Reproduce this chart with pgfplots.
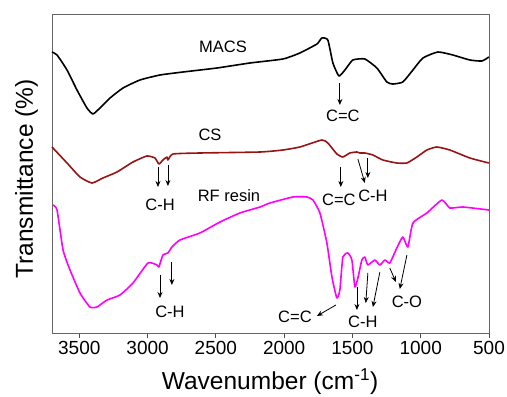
\documentclass[border=0pt]{standalone}
\usepackage{pgfplots}
\pgfplotsset{compat=1.18}
\usepackage{fontspec}
\setmainfont{Liberation Sans}
\usetikzlibrary{arrows.meta}
\definecolor{csred}{RGB}{150,20,20}
\definecolor{rfmag}{RGB}{255,0,255}
\tikzset{
  annot/.style={font=\fontsize{16.5}{19}\selectfont},
  arr/.style={-{Stealth[length=6pt,width=5pt]}, line width=0.8pt, black},
}
\begin{document}
\begin{tikzpicture}
\useasboundingbox (-52pt,-64pt) rectangle (455pt,333pt);
\begin{axis}[
  scale only axis, width=437pt, height=319pt,
  xmin=500, xmax=3700, x dir=reverse,
  ymin=0, ymax=319,
  ytick=\empty,
  xtick={500,1000,...,3500},
  xtick pos=bottom, tick align=outside,
  major tick length=5pt,
  axis line style={draw=black!60, line width=0.8pt},
  tick style={black!70, line width=0.8pt},
  /pgf/number format/1000 sep={},
  /pgf/number format/assume math mode=true,
  xticklabel style={font=\fontsize{19}{22}\selectfont},
  clip=false,
  every axis plot/.append style={line width=1.6pt, line join=round, smooth, tension=0.3},
]
% MACS
\addplot[black] coordinates {
(3700,281) (3663,278) (3590,263) (3517,243) (3444,225) (3400,219) (3349,225)
(3275,235) (3180,245) (3056,253) (2909,258) (2741,261) (2492,265) (2251,270)
(2009,274) (1885,280) (1760,289) (1724,295) (1680,293) (1643,270) (1599,257)
(1555,263) (1497,273) (1409,274) (1321,265) (1248,251) (1204,249) (1131,251)
(1057,263) (984,275) (874,281) (765,278) (640,273) (552,272) (501,276)
};
% CS
\addplot[csred] coordinates {
(3700,186) (3590,170) (3495,156) (3407,150) (3327,155) (3224,161) (3107,171)
(3005,177) (2946,175) (2917,169) (2888,173) (2858,176) (2851,173) (2814,179)
(2617,180) (2177,181) (2009,183) (1885,186) (1724,193) (1680,190) (1614,179)
(1570,176) (1519,180) (1467,181) (1445,180) (1409,180) (1350,178) (1277,173)
(1175,170) (1101,170) (1028,176) (955,183) (882,186) (787,183) (640,175) (501,170)
};
% RF resin
\addplot[rfmag] coordinates {
(3693,128) (3663,123) (3619,83) (3568,63) (3495,40) (3422,26) (3371,26)
(3297,33) (3202,38) (3107,50) (2997,70) (2931,68) (2917,66) (2888,78)
(2851,80) (2822,86) (2763,93) (2617,100) (2470,111) (2324,120) (2177,126)
(2104,130) (1936,136) (1833,136) (1789,133) (1738,120) (1687,90) (1650,56)
(1614,35) (1592,43) (1570,76) (1533,80) (1504,73) (1482,46) (1460,55)
(1431,73) (1409,76) (1387,68) (1336,73) (1299,68) (1262,73) (1226,70)
(1175,85) (1131,96) (1094,86) (1057,110) (955,120) (845,133) (787,125)
(691,126) (501,123)
};
% labels
\node[annot] at (axis cs:2448,286) {MACS};
\node[annot] at (axis cs:2543,198) {CS};
\node[annot] at (axis cs:2404,137) {RF resin};
% MACS C=C
\draw[arr] (axis cs:1592,250) -- (axis cs:1592,228);
\node[annot] at (axis cs:1570,217) {C=C};
% CS C-H
\draw[arr] (axis cs:2924,166) -- (axis cs:2924,146);
\draw[arr] (axis cs:2851,168) -- (axis cs:2851,147);
\node[annot] at (axis cs:2909,128) {C-H};
% CS C=C
\draw[arr] (axis cs:1585,166) -- (axis cs:1585,146);
\node[annot] at (axis cs:1599,133) {C=C};
% CS C-H
\draw[arr] (axis cs:1460,174) -- (axis cs:1409,150);
\draw[arr] (axis cs:1387,175) -- (axis cs:1387,155);
\node[annot] at (axis cs:1350,137) {C-H};
% RF C-H
\draw[arr] (axis cs:2909,58) -- (axis cs:2909,35);
\draw[arr] (axis cs:2822,71) -- (axis cs:2822,48);
\node[annot] at (axis cs:2836,21) {C-H};
% RF C=C
\draw[arr] (axis cs:1621,28) -- (axis cs:1760,17);
\node[annot] at (axis cs:1921,16) {C=C};
% RF C-H
\draw[arr] (axis cs:1467,46) -- (axis cs:1467,23);
\draw[arr] (axis cs:1387,60) -- (axis cs:1402,30);
\draw[arr] (axis cs:1299,61) -- (axis cs:1350,26);
\node[annot] at (axis cs:1424,11) {C-H};
% C-O
\draw[arr] (axis cs:1226,65) -- (axis cs:1182,51);
\draw[arr] (axis cs:1101,78) -- (axis cs:1153,44);
\node[annot] at (axis cs:1101,31) {C-O};
% axis labels
\node[font=\fontsize{24.5}{28}\selectfont, anchor=base] at (axis description cs:0.499,-0.178) {Wavenumber (cm\textsuperscript{-1})};
\node[font=\fontsize{24.5}{28}\selectfont, anchor=base, rotate=90] at (axis description cs:-0.0435,0.483) {Transmittance (\%)};
\end{axis}
\end{tikzpicture}
\end{document}
